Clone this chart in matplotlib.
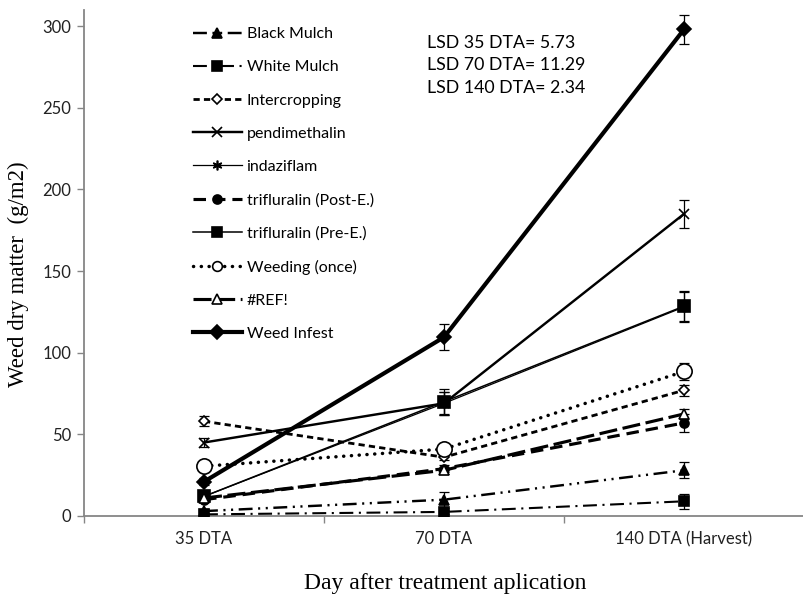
import matplotlib
matplotlib.use("Agg")
import matplotlib.pyplot as plt

plt.rcParams['lines.scale_dashes'] = False

categories = ["35 DTA", "70 DTA", "140 DTA (Harvest)"]
series_names = ["Black Mulch", "White Mulch", "Intercropping", "pendimethalin",
                "indaziflam", "trifluralin (Post-E.)", "trifluralin (Pre-E.)",
                "Weeding (once)", "#REF!", "Weed Infest"]

black_mulch = [3, 10, 28]
white_mulch = [1, 2.5, 9]
intercropping = [58, 36, 77]
pendimethalin = [45, 69, 185]
indaziflam = [12, 69, 128]
trifluralin_post = [10, 29, 57]
trifluralin_pre = [12, 70, 128.5]
weeding = [30.5, 41, 88.5]
ref_series = [11, 28, 62.5]
weed_infest = [21, 109.5, 298]

err_black = [1, 5, 5]
err_white = [1, 1, 4.5]
err_inter = [3, 2, 3.5]
err_pend = [2.5, 7, 8.5]
err_inda = [2, 7, 9]
err_post = [1.5, 2, 5.5]
err_pre = [2, 7.5, 9]
err_weed = [2, 3, 5]
err_ref = [1, 2, 3]
err_infest = [2, 8, 9]

lsd_lines = ["LSD 35 DTA= 5.73", "LSD 70 DTA= 11.29", "LSD 140 DTA= 2.34"]

values = [black_mulch, white_mulch, intercropping, pendimethalin, indaziflam,
          trifluralin_post, trifluralin_pre, weeding, ref_series, weed_infest]
errors = [err_black, err_white, err_inter, err_pend, err_inda,
          err_post, err_pre, err_weed, err_ref, err_infest]

styles = [
    dict(lw=1.75, dashes=(10, 4, 1.5, 4, 1.5, 4), marker='^', ms=7, mfc='black'),
    dict(lw=1.5, dashes=(10, 4, 1.5, 4), marker='s', ms=6.5, mfc='black'),
    dict(lw=2.0, dashes=(4.5, 3), marker='D', ms=5.5, mfc='white'),
    dict(lw=1.75, dashes=None, marker='x', ms=6.5, mfc='black'),
    dict(lw=0.9, dashes=None, marker=(6, 2, 0), ms=7, mfc='black'),
    dict(lw=2.25, dashes=(9, 5), marker='o', ms=6.5, mfc='black'),
    dict(lw=1.1, dashes=None, marker='s', ms=8, mfc='black'),
    dict(lw=2.5, dashes=(0.1, 5.5), marker='o', ms=11, mfc='white'),
    dict(lw=2.25, dashes=(13, 4), marker='^', ms=7, mfc='white'),
    dict(lw=3.0, dashes=None, marker='D', ms=7, mfc='black'),
]

fig = plt.figure(figsize=(8.04, 6.14), dpi=100)
ax = fig.add_axes([84 / 804, 1 - 516 / 614, (804 - 84) / 804, (516 - 9.8) / 614])

x = list(range(len(categories)))
handles = []
for name, vals, errs, st in zip(series_names, values, errors, styles):
    ax.errorbar(x, vals, yerr=errs, fmt='none', ecolor='black', elinewidth=0.9,
                capsize=3.5, capthick=0.9, zorder=2)
    ln, = ax.plot(x, vals, color='black', lw=st['lw'], marker=st['marker'],
                  ms=st['ms'], mfc=st['mfc'], mec='black', mew=1.2, zorder=3,
                  label=name)
    if st['dashes'] is not None:
        ln.set_dashes(st['dashes'])
        if st['dashes'][0] < 1:
            ln.set_dash_capstyle('round')
    handles.append(ln)

ax.set_xlim(-0.5, 2.451)
ax.set_ylim(0, 310)
ax.set_yticks([0, 50, 100, 150, 200, 250, 300])
ax.set_xticks(x)
ax.set_xticklabels(categories)
ax.set_xticks([-0.5, 0.5, 1.5, 2.5], minor=True)
ax.tick_params(axis='x', which='major', length=0, pad=11, labelsize=12)
ax.tick_params(axis='x', which='minor', length=5, color='#868686', width=1)
ax.tick_params(axis='y', length=5, color='#868686', width=1, labelsize=12, pad=4)
for lbl in ax.get_xticklabels() + ax.get_yticklabels():
    lbl.set_fontfamily('Lato')
    lbl.set_color('#222222')

for s in ['top', 'right']:
    ax.spines[s].set_visible(False)
for s in ['left', 'bottom']:
    ax.spines[s].set_color('#868686')
    ax.spines[s].set_linewidth(1.3)

fig.text(18 / 804, 1 - 274 / 614, "Weed dry matter  (g/m2)", rotation=90,
         ha='center', va='center', fontfamily='Liberation Serif', fontsize=16.5)
fig.text(445 / 804, 1 - 583 / 614, "Day after treatment aplication",
         ha='center', va='center', fontfamily='Liberation Serif', fontsize=17)

for i, t in enumerate(lsd_lines):
    fig.text(427 / 804, 1 - (43 + i * 22.5) / 614, t, ha='left', va='center',
             fontfamily='Lato', fontsize=12.8)

leg = fig.legend(handles=handles, loc='upper left',
                 bbox_to_anchor=(193 / 804, 1 - 27 / 614), frameon=False,
                 handlelength=3.05, handletextpad=0.3, labelspacing=1.19,
                 numpoints=1, prop={'family': 'Lato', 'size': 11.5},
                 borderaxespad=0, borderpad=0)
for h in leg.legend_handles:
    h.set_markersize(min(h.get_markersize(), 7))

fig.savefig("out.png", dpi=100)
